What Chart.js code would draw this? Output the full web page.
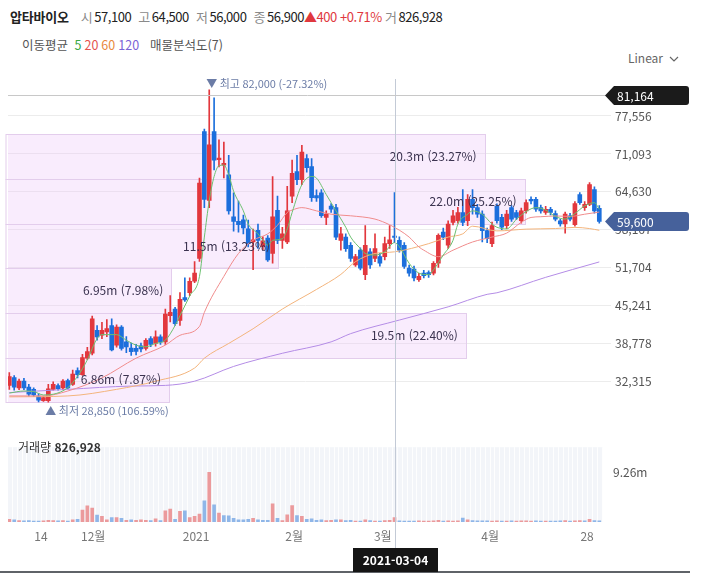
<!DOCTYPE html>
<html lang="ko">
<head>
<meta charset="utf-8">
<title>압타바이오</title>
<script src="https://cdn.jsdelivr.net/npm/chart.js@4.4.1/dist/chart.umd.min.js"></script>
<style>
  body { margin:0; width:702px; height:574px; background:#fff; position:relative; overflow:hidden;
         font-family:'Noto Sans CJK KR','Noto Sans',sans-serif; color:#222; }
  canvas { position:absolute; left:0; }
  #priceChart { top:0; }
  #volChart { top:430px; }
  .hdr { position:absolute; left:10px; top:7px; font-size:13px; white-space:nowrap; letter-spacing:-0.45px; }
  .hdr b { margin-right:12px; letter-spacing:-0.2px; }
  .hdr .k { color:#8a8a8a; margin-right:2px; }
  .hdr .v { margin-right:7px; }
  .hdr .r { color:#e0383e; }
  .ma { position:absolute; left:22px; top:35px; font-size:12.5px; color:#555; white-space:nowrap; }
  .ma span { margin-left:3px; }
  .lin { position:absolute; left:628px; top:49px; font-size:12px; color:#666; }
  .vol { position:absolute; left:18px; top:438px; font-size:12px; color:#333; }
</style>
</head>
<body>
<div class="hdr"><b>압타바이오</b><span class="k">시</span><span class="v">57,100</span><span class="k">고</span><span class="v">64,500</span><span class="k">저</span><span class="v">56,000</span><span class="k">종</span><span>56,900</span><span class="r">▲400 +0.71%</span> <span class="k">거</span><span>826,928</span></div>
<div class="ma">이동평균 <span style="color:#3aa845">5</span><span style="color:#e4524f">20</span><span style="color:#e8883a">60</span><span style="color:#7b63d6">120</span><span style="margin-left:11px">매물분석도(7)</span></div>
<div class="lin">Linear <svg width="10" height="8" style="margin-left:3px"><path d="M1 2 L5 6 L9 2" fill="none" stroke="#666" stroke-width="1.2"/></svg></div>
<canvas id="priceChart" width="702" height="430"></canvas>
<canvas id="volChart" width="702" height="144"></canvas>
<div class="vol">거래량 <b>826,928</b></div>

<script>
// Daily candles, 2020-11-05 .. 2021-05-03 (index = trading day)
const opens = [31700,33050,31300,32450,31430,31050,29900,29100,29100,31050,31700,31300,32550,31880,34220,33550,36350,37180,41070,40240,
  40800,41900,38560,41630,39120,38050,38000,38450,38000,39680,38850,39960,39120,43580,44700,42750,46640,47480,49430,53320,
  74880,63180,74880,70100,69200,67530,60410,59620,59900,58340,56110,58100,55300,56790,54160,61510,56390,56110,63920,68100,
  66700,70320,68930,64000,64470,60290,62240,61960,56400,56950,55560,52220,54720,50550,54440,53330,53610,53610,55830,57100,
  56390,55560,51660,51490,49710,50820,50900,50820,52490,57780,55560,59450,59730,61130,59730,63360,61960,60850,58060,55830,
  62240,60290,58900,61960,61130,59730,61410,63360,63360,61960,61130,61680,60960,59730,59170,60570,59070,64190,61960,62520,
  65030,61850];
const highs = [33900,33400,32800,32900,31900,31300,30300,29900,31900,32300,32000,32700,32800,34300,34700,37000,38200,43500,41900,42450,
  42900,43030,42000,41900,40000,38900,38700,38900,39700,40000,41000,40300,44700,47000,45000,47500,50000,50000,52800,67000,
  75330,82000,80630,73500,73100,70870,64470,63080,60700,59840,58300,59170,57000,57200,67260,63920,58620,65590,70040,70870,
  72540,71000,70300,65000,65030,61400,62630,62500,58620,57500,56000,54000,55100,58900,55000,57500,54200,56950,58900,64500,
  57000,56000,52200,52000,50800,51300,51200,52800,57500,58500,59700,61500,62000,65030,64200,65030,62500,61400,58500,59500,
  62600,60800,61500,62300,61500,61900,63300,63800,63700,62400,62200,62000,61400,60000,61200,61000,63000,64500,63000,66200,
  65500,62300];
const lows = [31050,30900,31000,31000,29900,29800,28900,29000,28850,30900,30900,31000,31100,31700,33000,33400,36100,36900,39400,39680,
  40000,37600,38200,37700,37300,36800,36900,37400,37700,38300,38400,38700,38700,42500,41900,41900,46000,47000,49200,52800,
  61960,61960,68360,68900,67000,60850,57950,57780,57500,55280,51400,55000,54800,52800,52490,55830,55000,55830,62800,65860,
  65860,68000,63000,63000,60300,59070,61130,56500,54720,54500,52800,51940,51380,49710,51600,52770,52000,53060,55000,56000,
  54400,51600,50300,49500,49400,50000,50100,50500,51800,56500,55000,59000,59300,58900,58900,60850,60300,56110,56000,55300,
  59300,58200,58400,59600,59900,59300,61000,62600,61300,61000,60800,60700,59700,58800,57620,59700,58800,62500,61500,62300,
  61000,59300];
const closes = [33200,31400,32450,31300,30200,30100,29200,29650,31150,31880,31150,32450,31300,33650,33550,36450,37450,43030,39960,41070,
  41400,37730,41630,38000,38280,37450,37500,37900,39400,38680,39960,39120,43860,44140,42200,46360,46250,49430,50820,66140,
  63350,72650,70040,70400,69500,61410,59620,59070,58500,55830,56500,56400,56300,53060,60400,56390,57500,61410,67800,66700,
  71430,68760,63640,63600,60570,60850,61680,56950,57500,54990,53330,53610,51660,55560,52220,55000,52490,55830,56500,56900,
  54720,51940,50820,49990,50260,50380,50540,52490,57230,56950,59170,60570,61130,59450,63360,61960,60850,58060,56670,58900,
  59730,58620,60850,60010,60290,61410,62800,63080,61680,61410,61680,61130,60010,59170,60850,60010,62630,62800,62520,65860,
  61410,59600];
// volume in millions of shares
const volumes = [0.52,0.42,0.26,0.2,0.26,0.15,0.15,0.2,0.3,0.26,0.2,0.26,0.18,0.42,0.52,2.24,3.02,2.6,1.3,1.04,
  0.42,0.83,0.83,0.68,0.31,0.42,0.31,0.42,0.31,0.26,0.57,0.26,2.08,2.39,0.52,1.98,2.08,0.83,1.04,1.46,
  3.95,9.26,3.22,1.66,1.2,1.14,0.68,0.42,0.42,0.52,0.68,0.42,0.31,0.31,3.38,0.68,0.26,1.35,3.07,1.2,
  1.04,0.52,0.57,0.31,0.42,0.26,0.31,0.42,0.42,0.26,0.31,0.16,0.16,0.42,0.26,0.16,0.16,0.26,0.31,0.83,
  0.2,0.18,0.16,0.18,0.2,0.16,0.16,0.2,0.3,0.16,0.2,0.18,0.2,0.73,0.42,0.26,0.2,0.22,0.2,0.18,
  0.2,0.18,0.16,0.2,0.18,0.2,0.22,0.16,0.2,0.16,0.18,0.16,0.16,0.2,0.26,0.16,0.2,0.26,0.2,0.52,
  0.26,0.2];

// moving averages: [day index, price]
const ma5 = [[0,30400],[3,30760],[5,30660],[7,30090],[9,30210],[12,31330],[14,33270],[16,36060],[18,39680],[19,40350],
  [22,40350],[24,39400],[26,38560],[28,38280],[30,38850],[32,39400],[34,41910],[35,43580],[37,46920],[39,50260],
  [40,56950],[41,63130],[42,67260],[43,69100],[44,69200],[45,67530],[46,64750],[48,61410],[49,59170],[51,57500],
  [52,56400],[53,55560],[54,56400],[56,56670],[57,58340],[58,61130],[60,65860],[62,67260],[63,66980],[65,64190],
  [67,61410],[69,58620],[70,56950],[72,55000],[73,54160],[75,53890],[77,54440],[79,56000],[80,55300],[82,52490],
  [84,50820],[86,50550],[87,51380],[89,53890],[91,56400],[92,59170],[94,60840],[95,61410],[97,60840],[99,59170],
  [100,58620],[102,58340],[104,59960],[106,61290],[108,61960],[110,61540],[112,60460],[114,60010],[116,60960],[118,62250],
  [120,62800],[121,61680]];
const ma20 = [[0,29920],[7,29920],[12,30760],[19,32990],[26,36350],[32,38560],[35,40240],[39,41750],[40,44130],[44,50260],
  [47,54160],[50,56400],[53,57500],[55,58960],[57,61130],[58,61540],[60,61960],[63,61410],[66,60840],[70,60570],
  [75,60010],[78,59040],[80,58120],[82,56950],[84,55280],[85,54720],[88,53610],[91,54720],[95,56110],[99,56950],
  [102,57620],[105,59460],[107,60290],[109,60410],[112,60540],[115,60460],[118,60840],[121,61210]];
const ma60 = [[0,29760],[12,29920],[22,31040],[30,32430],[38,34670],[40,36340],[45,38850],[50,41350],[56,44700],[63,48040],
  [68,50600],[71,52770],[75,54160],[79,54440],[86,55830],[90,56950],[93,57500],[95,58800],[100,58000],[106,58300],
  [112,58400],[116,58600],[119,58400],[121,58100]];
const ma120 = [[0,30490],[12,31040],[25,31600],[32,31710],[38,32430],[46,34940],[56,37180],[66,39120],[70,40520],[80,42830],
  [90,45080],[98,47210],[100,47470],[110,50100],[121,52720]];

// axis ticks
const yTicks = [32315, 38778, 45241, 51704, 58167, 64630, 71093, 77556];
const xTickAt = [6.5, 17.2, 38.3, 58.4, 76.6, 98.6, 118.5];
const xTickText = ['14', '12월', '2021', '2월', '3월', '4월', '28'];
const volTick = [9.26];

// volume profile (매물분석도), 7 price bands from low to high
const bandVol = [6.86, 19.5, 6.95, 11.5, 22.0, 20.3, 0];
const bandPct = [7.87, 22.40, 7.98, 13.23, 25.25, 23.27, 0];

// crosshair position
const crossIdx = 79;
const crossDate = '2021-03-04';
const crossPrice = 81164;

const RED = '#e2373d', BLUE = '#1c6fdc';
const fmt = v => Math.round(v).toLocaleString('en-US');
const FONT = "'Noto Sans CJK KR', 'Noto Sans', sans-serif";
Chart.defaults.font.family = FONT;
Chart.defaults.font.size = 12;
Chart.defaults.color = '#555';

const up = closes.map((c, i) => c >= opens[i]);
const volUp = closes.map((c, i) => c >= (i ? closes[i - 1] : opens[i]));
const hi = Math.max(...highs), lo = Math.min(...lows);
const last = closes[closes.length - 1];
const bandStep = (hi - lo) / bandVol.length;

const X_MIN = -0.27, X_MAX = 121.76;

const maLine = (pts, color) => ({
  type: 'line',
  data: pts.map(([i, v]) => ({ x: i, y: v })),
  borderColor: color,
  borderWidth: 1,
  pointRadius: 0,
  cubicInterpolationMode: 'monotone',
  order: 0
});

// bands, labels, hi/lo marks, crosshair, price tags
const priceOverlay = {
  id: 'priceOverlay',
  beforeDatasetsDraw(chart) {
    const { ctx, chartArea, scales: { y, xb } } = chart;
    ctx.save();
    bandVol.forEach((v, k) => {
      if (!v) return;
      const yT = Math.round(y.getPixelForValue(lo + (k + 1) * bandStep)) + 0.5;
      const yB = Math.round(y.getPixelForValue(lo + k * bandStep)) + 0.5;
      const xR = Math.round(xb.getPixelForValue(v)) + 0.5;
      ctx.fillStyle = 'rgba(236, 196, 248, 0.32)';
      ctx.fillRect(chartArea.left, yT, xR - chartArea.left, yB - yT);
      ctx.strokeStyle = '#e3cdec';
      ctx.lineWidth = 1;
      ctx.strokeRect(chartArea.left - 2, yT, xR - chartArea.left + 2, yB - yT);
    });
    ctx.restore();
  },
  afterDatasetsDraw(chart) {
    const { ctx, scales: { x, y, xb } } = chart;
    ctx.save();
    ctx.font = `12px ${FONT}`;
    ctx.fillStyle = '#3b3350';
    ctx.textAlign = 'right';
    ctx.textBaseline = 'middle';
    bandVol.forEach((v, k) => {
      if (!v) return;
      const yc = y.getPixelForValue(lo + (k + 0.5) * bandStep);
      ctx.fillText(`${v.toPrecision(3)}m (${bandPct[k].toFixed(2)}%)`, xb.getPixelForValue(v) - 8, yc);
    });

    ctx.font = `11px ${FONT}`;
    ctx.fillStyle = '#6b7ca6';
    ctx.textAlign = 'left';
    const hx = x.getPixelForValue(highs.indexOf(hi));
    ctx.fillText(`▼ 최고 ${fmt(hi)} (${((last - hi) / hi * 100).toFixed(2)}%)`, hx - 3, y.getPixelForValue(hi) - 6);
    const lx = x.getPixelForValue(lows.indexOf(lo));
    ctx.fillText(`▲ 최저 ${fmt(lo)} (${((last - lo) / lo * 100).toFixed(2)}%)`, lx - 3, y.getPixelForValue(lo) + 9);
    ctx.restore();
  },
  afterDraw(chart) {
    const { ctx, chartArea, scales: { x, y } } = chart;
    ctx.save();
    // crosshair
    ctx.strokeStyle = '#c3cad6';
    ctx.lineWidth = 1;
    const cx = Math.round(x.getPixelForValue(crossIdx)) + 0.5;
    ctx.beginPath();
    ctx.moveTo(cx, chartArea.top + 4);
    ctx.lineTo(cx, chart.height);
    ctx.stroke();
    const cy = Math.round(y.getPixelForValue(crossPrice)) + 0.5;
    ctx.strokeStyle = '#c8c8c8';
    ctx.beginPath();
    ctx.moveTo(chartArea.left, cy);
    ctx.lineTo(chartArea.right + 4, cy);
    ctx.stroke();

    const tag = (py, text, color) => {
      const x0 = chartArea.right + 2, w = 84, h = 19, r = 3;
      ctx.fillStyle = color;
      ctx.beginPath();
      ctx.moveTo(x0, py);
      ctx.lineTo(x0 + 9, py - h / 2);
      ctx.lineTo(x0 + w - r, py - h / 2);
      ctx.quadraticCurveTo(x0 + w, py - h / 2, x0 + w, py - h / 2 + r);
      ctx.lineTo(x0 + w, py + h / 2 - r);
      ctx.quadraticCurveTo(x0 + w, py + h / 2, x0 + w - r, py + h / 2);
      ctx.lineTo(x0 + 9, py + h / 2);
      ctx.closePath();
      ctx.fill();
      ctx.fillStyle = '#fff';
      ctx.font = `12px ${FONT}`;
      ctx.textAlign = 'left';
      ctx.textBaseline = 'middle';
      ctx.fillText(text, x0 + 12, py + 0.5);
    };
    tag(cy, fmt(crossPrice), '#1b1b1b');
    tag(y.getPixelForValue(last), fmt(last), '#46619b');
    ctx.restore();
  }
};

new Chart(document.getElementById('priceChart'), {
  data: {
    datasets: [
      maLine(ma5, '#6cc070'),
      maLine(ma20, '#f08c8c'),
      maLine(ma60, '#f3b47c'),
      maLine(ma120, '#b48ce6'),
      {
        type: 'bar',
        data: closes.map((c, i) => ({ x: i, y: [opens[i], c] })),
        backgroundColor: up.map(u => u ? RED : BLUE),
        barThickness: 4,
        minBarLength: 1,
        grouped: false,
        order: 1
      },
      {
        type: 'bar',
        data: lows.map((l, i) => ({ x: i, y: [l, highs[i]] })),
        backgroundColor: up.map(u => u ? RED : BLUE),
        barThickness: 1,
        grouped: false,
        order: 2
      }
    ]
  },
  options: {
    responsive: false,
    animation: false,
    layout: { padding: { top: 75, left: 8, bottom: 5, right: 0 } },
    plugins: { legend: { display: false }, tooltip: { enabled: false } },
    scales: {
      x: { type: 'linear', display: false, min: X_MIN, max: X_MAX, offset: false },
      xb: { type: 'linear', display: false, min: 0, max: 25.34 },
      y: {
        position: 'right',
        min: 26030,
        max: 84525,
        afterBuildTicks: s => { s.ticks = yTicks.map(v => ({ value: v })); },
        afterFit: s => { s.width = 99; },
        ticks: { callback: v => fmt(v), padding: 4, color: '#555' },
        grid: { color: '#ececec', tickLength: 8 },
        border: { display: false }
      }
    }
  },
  plugins: [priceOverlay]
});

// volume panel
const volOverlay = {
  id: 'volOverlay',
  beforeDatasetsDraw(chart) {
    const { ctx, chartArea: a, scales: { x } } = chart;
    ctx.save();
    ctx.fillStyle = '#f3f5f9';
    ctx.fillRect(a.left, a.top, a.right - a.left, a.bottom - a.top);
    ctx.fillStyle = 'rgba(255,255,255,0.85)';
    for (let i = 0; i < closes.length; i++) {
      ctx.fillRect(Math.round(x.getPixelForValue(i + 0.5)), a.top, 1, a.bottom - a.top);
    }
    ctx.restore();
  },
  afterDraw(chart) {
    const { ctx, scales: { x } } = chart;
    ctx.save();
    const cx = Math.round(x.getPixelForValue(crossIdx)) + 0.5;
    ctx.strokeStyle = '#c3cad6';
    ctx.lineWidth = 1;
    ctx.beginPath();
    ctx.moveTo(cx, 0);
    ctx.lineTo(cx, 118);
    ctx.stroke();
    ctx.fillStyle = '#5f6368';
    ctx.fillRect(0, 141, 690, 2);
    ctx.fillStyle = '#151515';
    ctx.fillRect(cx - 42.5, 118, 85, 24);
    ctx.fillStyle = '#fff';
    ctx.font = `bold 12px ${FONT}`;
    ctx.textAlign = 'center';
    ctx.textBaseline = 'middle';
    ctx.fillText(crossDate, cx, 130.5);
    ctx.restore();
  }
};

new Chart(document.getElementById('volChart'), {
  type: 'bar',
  data: {
    datasets: [{
      data: volumes.map((v, i) => ({ x: i, y: v })),
      backgroundColor: volUp.map(u => u ? '#eb9a9c' : '#8fb6e8'),
      barThickness: 3,
      grouped: false
    }]
  },
  options: {
    responsive: false,
    animation: false,
    layout: { padding: { top: 2, left: 8, bottom: 0, right: 0 } },
    plugins: { legend: { display: false }, tooltip: { enabled: false } },
    scales: {
      x: {
        type: 'linear', min: X_MIN, max: X_MAX, offset: false,
        afterBuildTicks: s => { s.ticks = xTickAt.map(v => ({ value: v })); },
        afterFit: s => { s.height = 52; },
        ticks: { callback: (v, i) => xTickText[i], autoSkip: false, maxRotation: 0, padding: 7, color: '#777' },
        grid: { display: false, drawTicks: false },
        border: { display: false }
      },
      y: {
        position: 'right', min: 0, max: 13.96,
        afterBuildTicks: s => { s.ticks = volTick.map(v => ({ value: v })); },
        afterFit: s => { s.width = 99; },
        ticks: { callback: v => v + 'm', padding: 10, color: '#555' },
        grid: { display: false, drawTicks: false },
        border: { display: false }
      }
    }
  },
  plugins: [volOverlay]
});
</script>
</body>
</html>
